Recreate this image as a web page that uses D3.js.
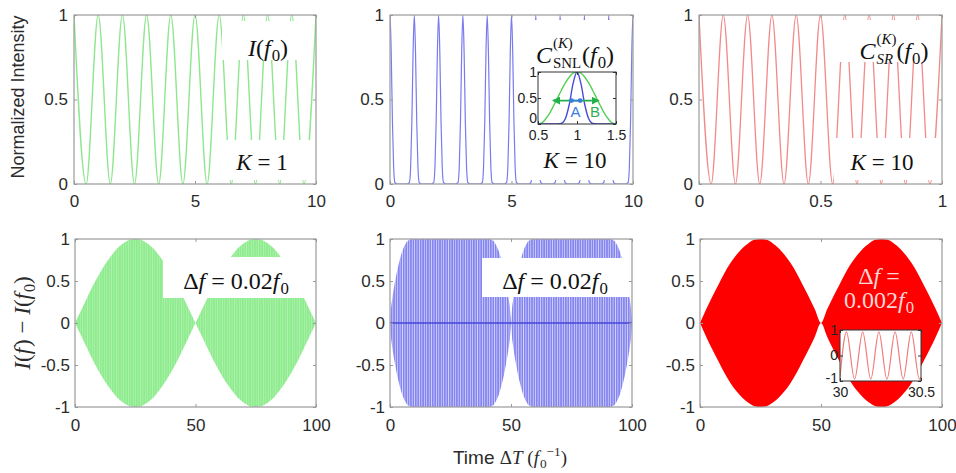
<!DOCTYPE html>
<html>
<head>
<meta charset="UTF-8">
<title>Intensity vs time</title>
<script src="https://cdn.jsdelivr.net/npm/d3@7"></script>
<style>
  body { margin: 0; background: #fff; }
  svg { display: block; font-family: "Liberation Sans", Arial, sans-serif; }
  .tick text { font-size: 17px; fill: #2b2b2b; }
  .tick line { stroke: #9a9a9a; }
  .inset .tick text { font-size: 14px; fill: #222; }
  .inset .tick line { stroke: #333; }
</style>
</head>
<body>
<svg id="chart" width="956" height="473"></svg>
<script>
// ---- top row data ----
const iTimes = [0,0.5,1,1.5,2,2.5,3,3.5,4,4.5,5,5.5,6,6.5,7,7.5,8,8.5,9,9.5,10];
const iValues = [1,0,1,0,1,0,1,0,1,0,1,0,1,0,1,0,1,0,1,0,1];

const snlPeaks = [0,1,2,3,4,5,6,7,8,9,10];
const snlOffsets = [-0.3,-0.2,-0.15,-0.1,-0.05,0,0.05,0.1,0.15,0.2,0.3];
const snlShape = [0,0.01,0.1,0.37,0.78,1,0.78,0.37,0.1,0.01,0];

const srTimes = [0,0.05,0.1,0.15,0.2,0.25,0.3,0.35,0.4,0.45,0.5,0.55,0.6,0.65,0.7,0.75,0.8,0.85,0.9,0.95,1];
const srValues = [1,0,1,0,1,0,1,0,1,0,1,0,1,0,1,0,1,0,1,0,1];

// inset: spectra around f0
const insetFreq = [0.5,0.55,0.6,0.65,0.7,0.75,0.8,0.85,0.9,0.95,1,1.05,1.1,1.15,1.2,1.25,1.3,1.35,1.4,1.45,1.5];
const insetWide = [0,0.02,0.1,0.21,0.35,0.5,0.65,0.79,0.9,0.98,1,0.98,0.9,0.79,0.65,0.5,0.35,0.21,0.1,0.02,0];
const insetNarrow = [0,0,0,0,0,0,0.01,0.1,0.37,0.78,1,0.78,0.37,0.1,0.01,0,0,0,0,0,0];
const widthA = [0.93,1.04];
const widthB = [0.7,1.27];
const halfLevel = 0.45;

// ---- bottom row data (envelopes of I(f) - I(f0)) ----
const envTimes = [0,2.5,5,7.5,10,12.5,15,17.5,20,22.5,25,27.5,30,32.5,35,37.5,40,42.5,45,47.5,50,
                  52.5,55,57.5,60,62.5,65,67.5,70,72.5,75,77.5,80,82.5,85,87.5,90,92.5,95,97.5,100];
const greenEnv = [0,0.15,0.3,0.45,0.58,0.7,0.8,0.89,0.95,0.99,1,0.99,0.95,0.89,0.8,0.7,0.58,0.45,0.3,0.15,0,
                  0.15,0.3,0.45,0.58,0.7,0.8,0.89,0.95,0.99,1,0.99,0.95,0.89,0.8,0.7,0.58,0.45,0.3,0.15,0];
const redEnv = [0,0.16,0.31,0.45,0.59,0.71,0.81,0.89,0.95,0.99,1,0.99,0.95,0.89,0.81,0.71,0.59,0.45,0.31,0.16,0,
                0.16,0.31,0.45,0.59,0.71,0.81,0.89,0.95,0.99,1,0.99,0.95,0.89,0.81,0.71,0.59,0.45,0.31,0.16,0];
const blueEnvTimes = [0,0.5,1,1.5,2,3,4,5,6,7,8,9,25,41,42,43,44,45,46,47,48,48.5,49,49.5,50,
                      50.5,51,51.5,52,53,54,55,56,57,58,59,75,91,92,93,94,95,96,97,98,98.5,99,99.5,100];
const blueEnv = [0,0.2,0.3,0.4,0.48,0.63,0.75,0.85,0.92,0.97,0.99,1,1,1,0.99,0.97,0.92,0.85,0.75,0.63,0.48,0.4,0.3,0.2,0,
                 0.2,0.3,0.4,0.48,0.63,0.75,0.85,0.92,0.97,0.99,1,1,1,0.99,0.97,0.92,0.85,0.75,0.63,0.48,0.4,0.3,0.2,0];

// inset: zoom of the red trace
const srZoomTimes = [30,30.04,30.09,30.14,30.19,30.24,30.29,30.34,30.39,30.44,30.49,30.5];
const srZoomValues = [-0.85,0.93,-0.93,0.93,-0.93,0.93,-0.93,0.93,-0.93,0.93,-0.93,-0.85];

// ---- layout ----
const svg = d3.select("#chart");
const defs = svg.append("defs");

function panel(id, x0, x1, y0, y1, xd, yd) {
    const x = d3.scaleLinear().domain(xd).range([x0, x1]);
    const y = d3.scaleLinear().domain(yd).range([y1, y0]);
    defs.append("clipPath").attr("id", "clip-" + id)
        .append("rect").attr("x", x0).attr("y", y0).attr("width", x1 - x0).attr("height", y1 - y0);
    const g = svg.append("g");
    const plot = g.append("g").attr("clip-path", `url(#clip-${id})`);
    return {id, x0, x1, y0, y1, x, y, g, plot};
}

function frame(P, xt, yt, pad, cls) {
    const fmt = d => String(d);
    const ax = P.g.append("g").attr("class", cls || "");
    ax.append("g").attr("transform", `translate(0,${P.y1})`)
        .call(d3.axisBottom(P.x).tickValues(xt).tickFormat(fmt).tickSizeInner(-3).tickSizeOuter(0).tickPadding(pad[0]));
    ax.append("g").attr("transform", `translate(0,${P.y0})`)
        .call(d3.axisTop(P.x).tickValues(xt).tickFormat("").tickSizeInner(-3).tickSizeOuter(0));
    ax.append("g").attr("class", "yleft").attr("transform", `translate(${P.x0},0)`)
        .call(d3.axisLeft(P.y).tickValues(yt).tickFormat(fmt).tickSizeInner(-3).tickSizeOuter(0).tickPadding(pad[1]));
    ax.append("g").attr("transform", `translate(${P.x1},0)`)
        .call(d3.axisRight(P.y).tickValues(yt).tickFormat("").tickSizeInner(-3).tickSizeOuter(0));
    ax.selectAll(".domain").remove();
    ax.selectAll(".tick text").attr("font-family", null);
    ax.append("rect").attr("x", P.x0).attr("y", P.y0)
        .attr("width", P.x1 - P.x0).attr("height", P.y1 - P.y0)
        .attr("fill", "none").attr("stroke", cls ? "#333" : "#9a9a9a").attr("stroke-width", cls ? 1 : 1.2);
    return ax;
}

function whiteBox(g, x, y, w, h) {
    g.append("rect").attr("x", x).attr("y", y).attr("width", w).attr("height", h).attr("fill", "#fff");
}

// math-like text: parts laid out left to right, "stack" puts next part on same x
function mathText(parent, cx, by, parts, size, fill, anchor) {
    const grp = parent.append("g").attr("fill", fill);
    let x = 0, stackX = null, stackW = 0;
    parts.forEach(p => {
        const t = grp.append("text")
            .attr("y", (p.shift || 0) * size)
            .attr("font-size", size * (p.scale || 1))
            .style("font-family", p.family || "\"Liberation Serif\", \"Times New Roman\", serif")
            .style("white-space", "pre");
        (Array.isArray(p.s) ? p.s : [[p.s, p.it]]).forEach(([s, it]) =>
            t.append("tspan").attr("font-style", it ? "italic" : "normal").text(s));
        const w = t.node().getComputedTextLength() + (p.gap || 0);
        if (p.stack) { stackX = x; stackW = w; t.attr("x", x); }
        else if (stackX !== null) { t.attr("x", stackX); x = stackX + Math.max(stackW, w); stackX = null; }
        else { t.attr("x", x); x += w; }
    });
    const off = anchor === "start" ? 0 : -x / 2;
    grp.attr("transform", `translate(${cx + off},${by})`);
    return grp;
}

const sub0 = {s: "0", scale: 0.7, shift: 0.22};

// ---------- top left: I(f0) ----------
const p1 = panel("tl", 74, 316, 15, 184, [0, 10], [0, 1]);
p1.plot.append("path")
    .datum(iTimes.map((t, i) => [t, iValues[i]]))
    .attr("fill", "none").attr("stroke", "#8ee68e").attr("stroke-width", 1.4)
    .attr("d", d3.line().x(d => p1.x(d[0])).y(d => p1.y(d[1])).curve(d3.curveMonotoneX));
whiteBox(p1.plot, 222, 21, 88, 39);
whiteBox(p1.plot, 222, 140, 88, 40);
frame(p1, [0, 5, 10], [0, 0.5, 1], [11, 6]);
mathText(p1.g, 268, 56, [{s: "I", it: 1}, {s: "("}, {s: "f", it: 1, gap: 1}, sub0, {s: ")"}], 24, "#111");
mathText(p1.g, 262, 170, [{s: "K", it: 1}, {s: " = 1"}], 23, "#111");

// ---------- top middle: C_SNL ----------
const p2 = panel("tm", 390, 633, 15, 184, [0, 10], [0, 1]);
const snlSeries = [];
snlPeaks.forEach(c => snlOffsets.forEach((o, i) => snlSeries.push([c + o, snlShape[i]])));
p2.plot.append("path")
    .datum(snlSeries)
    .attr("fill", "none").attr("stroke", "#7a7aee").attr("stroke-width", 1.2)
    .attr("d", d3.line().x(d => p2.x(d[0])).y(d => p2.y(d[1])).curve(d3.curveMonotoneX));
whiteBox(p2.plot, 525, 20, 102, 160);
frame(p2, [0, 5, 10], [0, 0.5, 1], [11, 6]);
mathText(p2.g, 575, 63, [{s: "C", it: 1, gap: 1},
    {s: [["(", 0], ["K", 1], [")", 0]], scale: 0.62, shift: -0.62, stack: 1},
    {s: "SNL", scale: 0.62, shift: 0.2, gap: 1},
    {s: "("}, {s: "f", it: 1, gap: 1}, sub0, {s: ")"}], 24, "#111");
mathText(p2.g, 575, 168, [{s: "K", it: 1}, {s: " = 10"}], 23, "#111");

// inset spectra
const q = panel("tmin", 538, 616, 72, 124, [0.5, 1.5], [0, 1]);
q.plot.append("rect").attr("x", q.x0).attr("y", q.y0).attr("width", q.x1 - q.x0).attr("height", q.y1 - q.y0).attr("fill", "#fff");
q.plot.append("path").datum(insetFreq.map((f, i) => [f, insetWide[i]]))
    .attr("fill", "none").attr("stroke", "#55d055").attr("stroke-width", 1.4)
    .attr("d", d3.line().x(d => q.x(d[0])).y(d => q.y(d[1])).curve(d3.curveMonotoneX));
q.plot.append("path").datum(insetFreq.map((f, i) => [f, insetNarrow[i]]))
    .attr("fill", "none").attr("stroke", "#4b4bd6").attr("stroke-width", 1.4)
    .attr("d", d3.line().x(d => q.x(d[0])).y(d => q.y(d[1])).curve(d3.curveMonotoneX));
defs.append("marker").attr("id", "arrowG").attr("viewBox", "0 0 10 10").attr("refX", 8).attr("refY", 5)
    .attr("markerWidth", 5).attr("markerHeight", 5).attr("orient", "auto-start-reverse")
    .append("path").attr("d", "M0,0L10,5L0,10z").attr("fill", "#22b04a");
q.g.append("line")
    .attr("x1", q.x(widthB[0])).attr("x2", q.x(widthB[1]))
    .attr("y1", q.y(halfLevel)).attr("y2", q.y(halfLevel))
    .attr("stroke", "#22b04a").attr("stroke-width", 1.6)
    .attr("marker-start", "url(#arrowG)").attr("marker-end", "url(#arrowG)");
q.g.append("line")
    .attr("x1", q.x(widthA[0])).attr("x2", q.x(widthA[1]))
    .attr("y1", q.y(halfLevel)).attr("y2", q.y(halfLevel))
    .attr("stroke", "#3a7be0").attr("stroke-width", 1.6);
q.g.selectAll("circle.dot").data(widthA).join("circle").attr("class", "dot")
    .attr("cx", d => q.x(d)).attr("cy", q.y(halfLevel)).attr("r", 2.4).attr("fill", "#3a7be0");
q.g.append("text").attr("x", q.x(0.98)).attr("y", q.y(0.13)).attr("text-anchor", "middle")
    .attr("font-size", 15).attr("fill", "#3a7be0").text("A");
q.g.append("text").attr("x", q.x(1.23)).attr("y", q.y(0.13)).attr("text-anchor", "middle")
    .attr("font-size", 15).attr("fill", "#2db04b").text("B");
const qAx = frame(q, [0.5, 1, 1.5], [0, 0.5, 1], [6, 1], "inset");
qAx.selectAll(".yleft .tick text").filter(d => d === 0).attr("dy", "-0.1em");

// ---------- top right: C_SR ----------
const p3 = panel("tr", 699, 942, 15, 184, [0, 1], [0, 1]);
p3.plot.append("path")
    .datum(srTimes.map((t, i) => [t, srValues[i]]))
    .attr("fill", "none").attr("stroke", "#f28a8a").attr("stroke-width", 1.3)
    .attr("d", d3.line().x(d => p3.x(d[0])).y(d => p3.y(d[1])).curve(d3.curveMonotoneX));
whiteBox(p3.plot, 834, 20, 103, 42);
whiteBox(p3.plot, 834, 138, 103, 42);
frame(p3, [0, 0.5, 1], [0, 0.5, 1], [11, 6]);
mathText(p3.g, 894, 59, [{s: "C", it: 1, gap: 1},
    {s: [["(", 0], ["K", 1], [")", 0]], scale: 0.62, shift: -0.62, stack: 1},
    {s: [["SR", 1]], scale: 0.62, shift: 0.2, gap: 1},
    {s: "("}, {s: "f", it: 1, gap: 1}, sub0, {s: ")"}], 24, "#111");
mathText(p3.g, 882, 170, [{s: "K", it: 1}, {s: " = 10"}], 23, "#111");

// ---------- bottom left: green ----------
function stripes(id, w, base, line, lw, x0) {
    const pat = defs.append("pattern").attr("id", id).attr("patternUnits", "userSpaceOnUse")
        .attr("x", x0).attr("width", w).attr("height", 8);
    pat.append("rect").attr("width", w).attr("height", 8).attr("fill", base);
    pat.append("rect").attr("width", lw).attr("height", 8).attr("fill", line);
}

const p4 = panel("bl", 75, 316, 239, 407, [0, 100], [-1, 1]);
stripes("gstripe", p4.x(1) - p4.x(0), "#8eeb8e", "#b2f4b2", 0.7, p4.x0);
p4.plot.append("path")
    .datum(envTimes.map((t, i) => [t, greenEnv[i]]))
    .attr("fill", "url(#gstripe)")
    .attr("d", d3.area().x(d => p4.x(d[0])).y0(d => p4.y(-d[1])).y1(d => p4.y(d[1])));
whiteBox(p4.plot, 163, 257, 160, 41);
frame(p4, [0, 50, 100], [-1, -0.5, 0, 0.5, 1], [12, 5]);
mathText(p4.g, 236, 289, [{s: "Δ"}, {s: "f", it: 1}, {s: " = 0.02"}, {s: "f", it: 1, gap: 1}, sub0], 24, "#111");

// ---------- bottom middle: blue ----------
const p5 = panel("bm", 390, 632, 239, 407, [0, 100], [-1, 1]);
stripes("bstripe", p5.x(1) - p5.x(0), "#8585f0", "#eeeeff", 0.6, p5.x0);
p5.plot.append("path")
    .datum(blueEnvTimes.map((t, i) => [t, blueEnv[i]]))
    .attr("fill", "url(#bstripe)")
    .attr("d", d3.area().x(d => p5.x(d[0])).y0(d => p5.y(-d[1])).y1(d => p5.y(d[1])));
p5.plot.append("line")
    .attr("x1", p5.x(0)).attr("x2", p5.x(100)).attr("y1", p5.y(0)).attr("y2", p5.y(0))
    .attr("stroke", "#4646d8").attr("stroke-width", 1.6);
whiteBox(p5.plot, 482, 258, 160, 39);
frame(p5, [0, 50, 100], [-1, -0.5, 0, 0.5, 1], [12, 5]);
mathText(p5.g, 555, 289, [{s: "Δ"}, {s: "f", it: 1}, {s: " = 0.02"}, {s: "f", it: 1, gap: 1}, sub0], 24, "#111");

// ---------- bottom right: red ----------
const p6 = panel("br", 700, 942, 239, 407, [0, 100], [-1, 1]);
p6.plot.append("path")
    .datum(envTimes.map((t, i) => [t, redEnv[i]]))
    .attr("fill", "#ff0000")
    .attr("d", d3.area().x(d => p6.x(d[0])).y0(d => p6.y(-d[1])).y1(d => p6.y(d[1])).curve(d3.curveMonotoneX));
frame(p6, [0, 50, 100], [-1, -0.5, 0, 0.5, 1], [12, 5]);
mathText(p6.g, 879, 284, [{s: "Δ"}, {s: "f", it: 1}, {s: " ="}], 24, "#fcd6d6");
mathText(p6.g, 879, 308, [{s: "0.002"}, {s: "f", it: 1, gap: 1}, sub0], 24, "#fcd6d6");

const r = panel("brin", 840, 921, 330, 381, [30, 30.5], [-1, 1]);
r.plot.append("rect").attr("x", r.x0).attr("y", r.y0).attr("width", r.x1 - r.x0).attr("height", r.y1 - r.y0).attr("fill", "#fff");
r.plot.append("path")
    .datum(srZoomTimes.map((t, i) => [t, srZoomValues[i]]))
    .attr("fill", "none").attr("stroke", "#f07a7a").attr("stroke-width", 1.2)
    .attr("d", d3.line().x(d => r.x(d[0])).y(d => r.y(d[1])).curve(d3.curveMonotoneX));
const rAx = frame(r, [30, 30.5], [-1, 0, 1], [6, 2], "inset");
rAx.selectAll(".tick text").attr("font-size", 16);
rAx.selectAll(".yleft .tick text").filter(d => d === -1).attr("dy", "0.1em");

// ---------- axis titles ----------
svg.append("text")
    .attr("transform", "translate(24,97) rotate(-90)")
    .attr("text-anchor", "middle").attr("font-size", 18).attr("fill", "#2b2b2b")
    .text("Normalized Intensity");

const yt = svg.append("g").attr("transform", "translate(30,323) rotate(-90)");
mathText(yt, 0, 0, [{s: "I", it: 1}, {s: "("}, {s: "f", it: 1, gap: 1}, {s: ")"}, {s: " − "},
    {s: "I", it: 1}, {s: "("}, {s: "f", it: 1, gap: 1}, sub0, {s: ")"}], 23, "#2b2b2b");

mathText(svg, 510, 464, [{s: "Time ", family: "\"Liberation Sans\", Arial, sans-serif"},
    {s: "Δ"}, {s: "T", it: 1}, {s: " ("}, {s: "f", it: 1, gap: 1}, sub0,
    {s: "−1", scale: 0.7, shift: -0.4}, {s: ")"}], 19, "#2b2b2b");
</script>
</body>
</html>
